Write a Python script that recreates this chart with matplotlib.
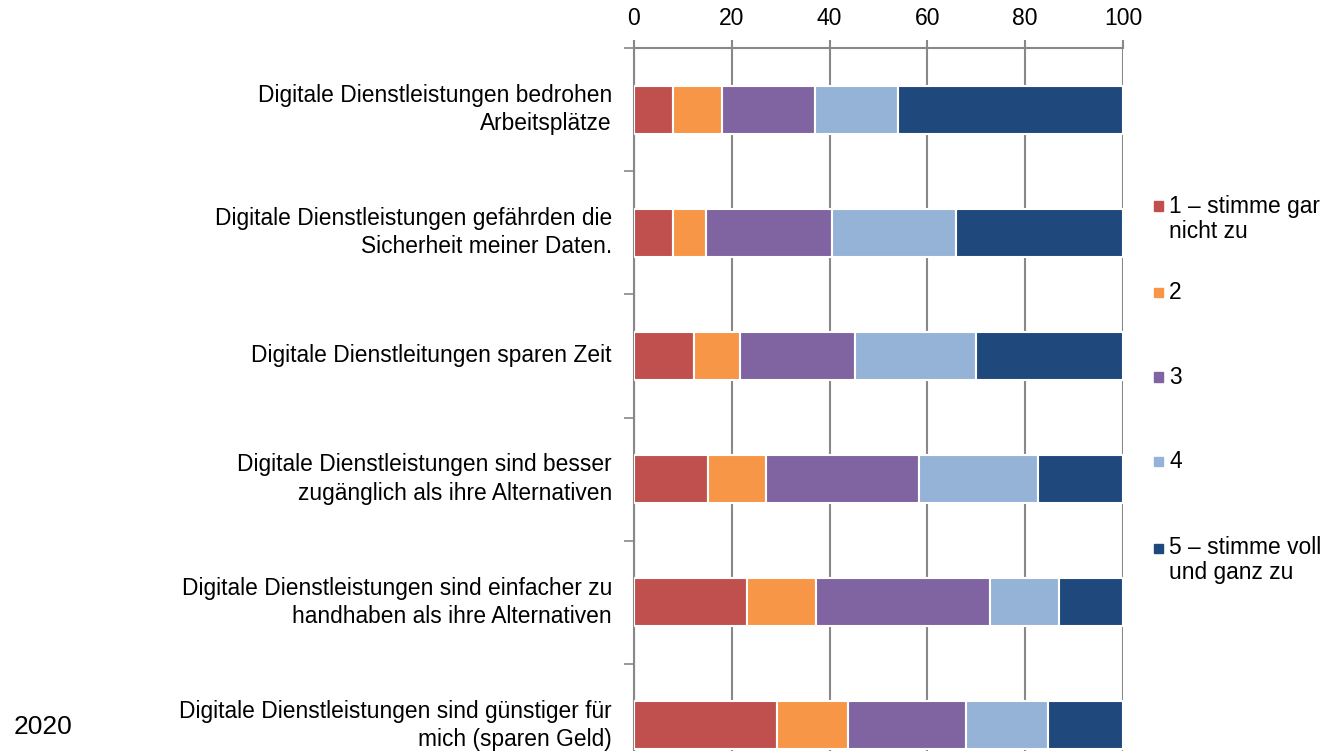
import matplotlib
matplotlib.use("Agg")
import matplotlib.pyplot as plt
from matplotlib.patches import Rectangle

plt.rcParams['font.family'] = ['Liberation Sans', 'DejaVu Sans']

categories = [
    "Digitale Dienstleistungen bedrohen\nArbeitsplätze",
    "Digitale Dienstleistungen gefährden die\nSicherheit meiner Daten.",
    "Digitale Dienstleitungen sparen Zeit",
    "Digitale Dienstleistungen sind besser\nzugänglich als ihre Alternativen",
    "Digitale Dienstleistungen sind einfacher zu\nhandhaben als ihre Alternativen",
    "Digitale Dienstleistungen sind günstiger für\nmich (sparen Geld)",
]
series_names = ["1 – stimme gar\nnicht zu", "2", "3", "4", "5 – stimme voll\nund ganz zu"]
s1 = [7.9, 8.0, 12.3, 15.2, 23.1, 29.2]
s2 = [10.0, 6.7, 9.4, 11.7, 14.1, 14.6]
s3 = [19.2, 25.8, 23.5, 31.4, 35.7, 24.1]
s4 = [16.9, 25.4, 24.8, 24.4, 14.0, 16.7]
s5 = [46.0, 34.1, 30.0, 17.3, 13.1, 15.4]
series = [s1, s2, s3, s4, s5]
colors = ["#C0504D", "#F79646", "#8064A2", "#95B3D7", "#1F497D"]
year_label = "2020"

fig = plt.figure(figsize=(13.24, 7.51), dpi=100)
W, H = 1324, 751
# axes extends below the figure bottom (chart is cut off)
ax = fig.add_axes([634 / W, 1 - 787 / H, (1123 - 634) / W, (787 - 48) / H])

ypos = list(range(len(categories)))
left = [0] * len(categories)
for vals, col in zip(series, colors):
    ax.barh(ypos, vals, left=left, height=0.39, color=col,
            edgecolor="white", linewidth=1.5, zorder=3)
    left = [a + b for a, b in zip(left, vals)]

ax.set_xlim(0, 100)
ax.set_ylim(len(categories) - 0.5, -0.5)
ax.xaxis.tick_top()
ax.set_xticks([0, 20, 40, 60, 80, 100])
ax.tick_params(axis='x', labelsize=16.5, color="#888888", length=6, width=1.5,
               pad=7, direction='out')
ax.grid(axis='x', color="#888888", linewidth=1.5, zorder=0)

ax.set_yticks([i - 0.5 for i in range(len(categories))])
ax.set_yticklabels([])
ax.tick_params(axis='y', color="#888888", length=7, width=1.2, direction='out')

for sp in ['right', 'bottom']:
    ax.spines[sp].set_visible(False)
for sp in ['top', 'left']:
    ax.spines[sp].set_color("#888888")
    ax.spines[sp].set_linewidth(1.5)

for i, lab in enumerate(categories):
    ax.text(-4.5, i, lab, ha='right', va='center', fontsize=16.4,
            linespacing=1.3)

fig.text(14 / W, 1 - 727 / H, year_label, ha='left', va='center', fontsize=19)

# legend drawn manually
leg_y = [206, 292, 377, 462, 548]
for name, col, yc in zip(series_names, colors, leg_y):
    fig.patches.append(Rectangle((1154 / W, 1 - (yc + 4.5) / H), 9 / W, 9 / H,
                                 transform=fig.transFigure, color=col))
    for k, line in enumerate(name.split("\n")):
        fig.text(1169 / W, 1 - (yc + k * 25) / H, line, ha='left',
                 va='center', fontsize=16.4)

fig.savefig("out.png", dpi=100)
